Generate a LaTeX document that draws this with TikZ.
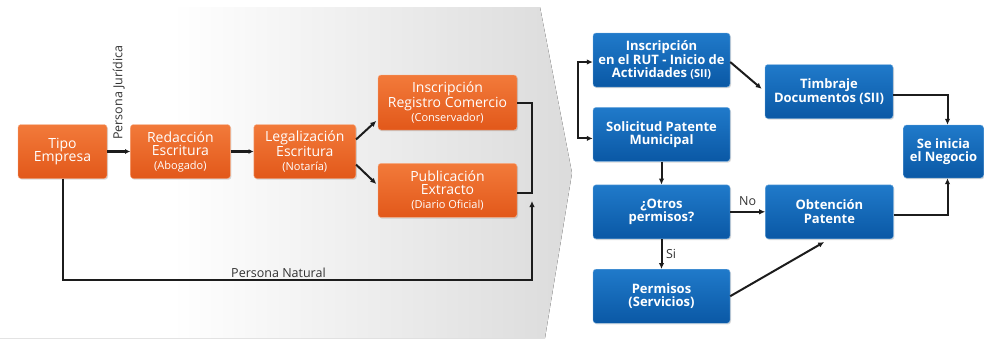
\documentclass[tikz,border=0pt]{standalone}
\usepackage{fontspec}
\setmainfont{Open Sans}
\usetikzlibrary{arrows.meta, positioning, calc, shadows}

\definecolor{orangetop}{RGB}{242,122,58}
\definecolor{orangebot}{RGB}{226,88,26}
\definecolor{bluetop}{RGB}{32,122,202}
\definecolor{bluebot}{RGB}{10,88,165}
\definecolor{linegray}{RGB}{28,28,28}
\pgfdeclarehorizontalshading{panelshade}{100bp}{color(0bp)=(white); color(40bp)=(white); color(75bp)=(black!14); color(100bp)=(black!14)}
\newcommand{\subt}[1]{{\fontsize{11}{12}\selectfont #1}}

\begin{document}
\begin{tikzpicture}[
    x=1pt, y=-1pt,
    font=\fontsize{14}{13.5}\selectfont,
    box/.style={
      rounded corners=3pt, text=white, align=center,
      inner sep=1pt, minimum height=54pt, line width=.4pt,
      drop shadow={opacity=.3, shadow xshift=1pt, shadow yshift=-1.2pt}
    },
    obox/.style={box, top color=orangetop, bottom color=orangebot, draw=orangetop!60!white},
    bbox/.style={box, top color=bluetop, bottom color=bluebot, draw=bluetop!60!white,
      font=\fontsize{13}{13.5}\selectfont\bfseries},
    lbl/.style={font=\fontsize{12.5}{13}\selectfont, text=black!80, inner sep=1.5pt},
    line/.style={line width=2pt, draw=linegray},
    arr/.style={line, -{Latex[length=6pt,width=5.5pt]}},
    arrthick/.style={arr, line width=3.4pt, -{Latex[length=5pt,width=5pt]}},
    arrboth/.style={line, {Latex[length=6pt,width=5.5pt]}-{Latex[length=6pt,width=5.5pt]}}
  ]
  \useasboundingbox (0,0) rectangle (984,338);
  % background panel with chevron
  \fill[shading=panelshade] (0,7) -- (540,7) -- (572,173) -- (545,338) -- (0,338) -- cycle;

  % first stage (orange)
  \node[obox, minimum width=89pt]  (tipo) at (62.5,151.5) {Tipo\\Empresa};
  \node[obox, minimum width=100pt, right=23pt of tipo]  (redac) {Redacción\\Escritura\\\subt{(Abogado)}};
  \node[obox, minimum width=102pt, right=23pt of redac] (legal) {Legalización\\Escritura\\\subt{(Notaría)}};
  \node[obox, minimum width=139pt, minimum height=55pt] (inscr) at (447.5,102.5) {Inscripción\\Registro Comercio\\\subt{(Conservador)}};
  \node[obox, minimum width=139pt, below=33pt of inscr] (publ) {Publicación\\Extracto\\\subt{(Diario Oficial)}};

  % second stage (blue)
  \node[bbox, minimum width=137pt] (rut) at (661.5,60) {Inscripción\\en el RUT - Inicio de\\Actividades \subt{(SII)}};
  \node[bbox, minimum width=137pt, below=20pt of rut]   (solic) {Solicitud Patente\\Municipal};
  \node[bbox, minimum width=137pt, below=23pt of solic] (otros) {¿Otros\\permisos?};
  \node[bbox, minimum width=137pt, below=30pt of otros] (perm)  {Permisos\\(Servicios)};
  \node[bbox, minimum width=128pt] (timb) at (829,91.5) {Timbraje\\Documentos (SII)};
  \node[bbox, minimum width=128pt, right=35pt of otros] (obten) {Obtención\\Patente};
  \node[bbox, minimum width=80pt, minimum height=53pt] (inicio) at (943.5,151.5) {Se inicia\\el Negocio};

  \coordinate (nat)   at (532,280);
  \coordinate (merge) at (532,201);

  % connectors, first stage
  \draw[arrthick] (tipo) -- (redac);
  \node[lbl, rotate=90, anchor=west] (pj) at ($(tipo.east)!.5!(redac.west)+(0,-10)$) {Persona Jurídica};
  \draw[arrthick] (redac) -- (legal);
  \draw[arr, shorten >=2pt] ([yshift=12pt]legal.east) -- ([yshift=-17pt]inscr.west);
  \draw[arr, shorten >=2pt] ([yshift=-13pt]legal.east) -- ([yshift=5pt]publ.west);
  \draw[line] (inscr.east) -- ++(15,0) |- ([yshift=-3pt]publ.east);
  \draw[arr] (tipo.south) |- node[lbl, above, pos=.73] (pnat) {Persona Natural} (nat) -- (merge);

  % connectors, second stage
  \draw[arrboth] ([yshift=-2pt]rut.west) -- ++(-15,0) |- ([yshift=-4pt]solic.west);
  \draw[arr, shorten >=4pt] ([yshift=-2pt]rut.east) -- (timb.west);
  \draw[arr] (solic) -- (otros);
  \draw[arr] (otros) -- node[lbl, above, yshift=4pt] (no) {No} (obten);
  \draw[arr] (otros) -- node[lbl, right, xshift=2pt] (si) {Si} (perm);
  \draw[arr, shorten >=6pt] (perm.east) -- (obten.south);
  \draw[arr] ([yshift=-3pt]timb.east) -| ([xshift=4pt]inicio.north);
  \draw[arr] ([yshift=-3pt]obten.east) -| ([xshift=4pt]inicio.south);
\end{tikzpicture}
\end{document}
